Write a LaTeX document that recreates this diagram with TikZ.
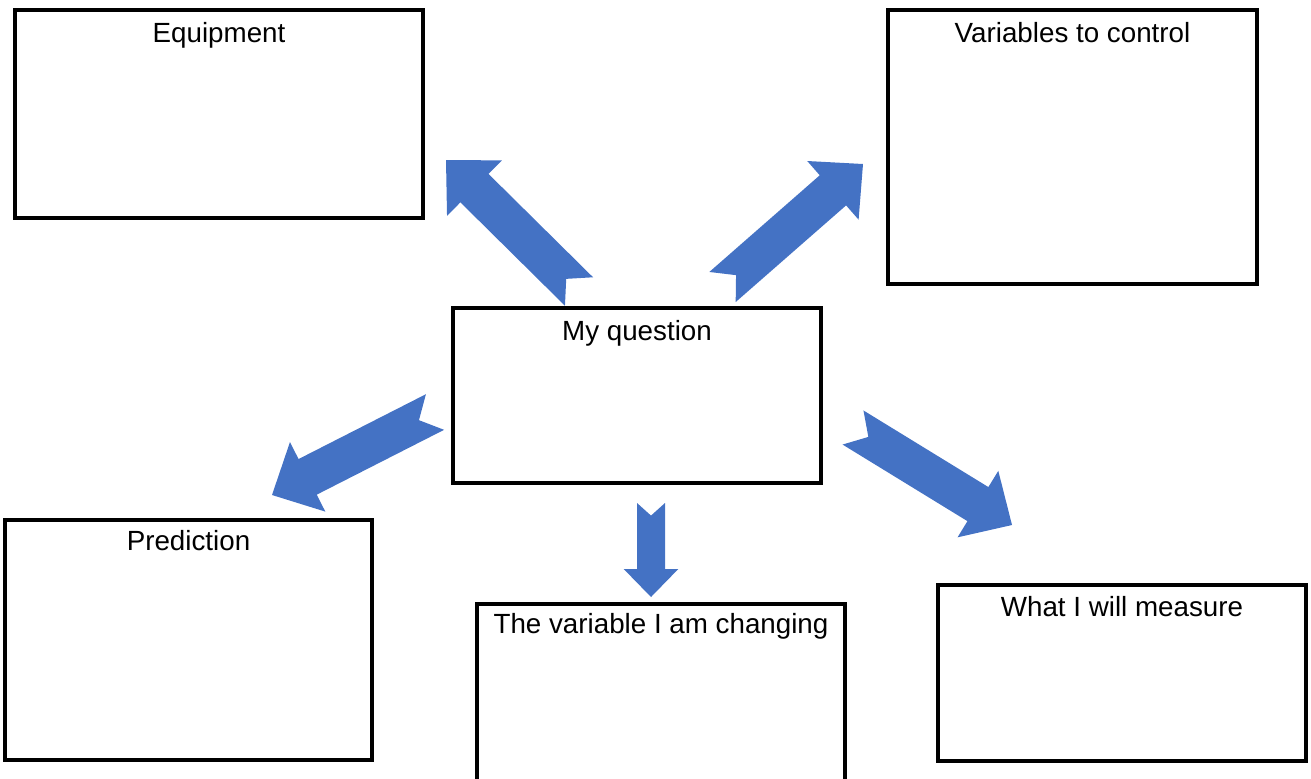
\documentclass[tikz,border=0pt]{standalone}
\usepackage{fontspec}
\setmainfont{Liberation Sans}
\usetikzlibrary{calc,positioning}
\definecolor{arrowblue}{RGB}{68,114,196}
% notched block arrow from #2 (tail) to #3 (tip), #1 scales its width
\newcommand{\blockarrow}[3][1]{%
	\coordinate (ahead) at ($(#3)!#1*0.8cm!(#2)$);
	\fill[arrowblue] ($(#2)!#1*0.4cm!90:(#3)$) -- ($(ahead)!#1*0.4cm!-90:(#2)$)
		-- ($(ahead)!#1*0.78cm!-90:(#2)$) -- (#3) -- ($(ahead)!#1*0.78cm!90:(#2)$)
		-- ($(ahead)!#1*0.4cm!90:(#2)$) -- ($(#2)!#1*0.4cm!-90:(#3)$)
		-- ($(#2)!#1*0.36cm!(#3)$) -- cycle;
}

\begin{document}
\begin{tikzpicture}[x=0.02cm,y=-0.02cm,
		box/.style={draw,line width=1.8pt,inner sep=0pt},
		title/.style={anchor=base,inner sep=0pt,font=\fontsize{15.8pt}{19pt}\selectfont}]
				\useasboundingbox (0,0) rectangle (1311,778);
				\clip (0,0) rectangle (1311,778);
				\node[box,minimum width=8.16cm,minimum height=4.16cm] (equip) at (219,114) {};
				\node[box,minimum width=7.38cm,minimum height=5.48cm] (control) at (1072.5,147) {};
				\node[box,minimum width=7.36cm,minimum height=3.5cm] (question) at (637,395.5) {};
				\node[box,minimum width=7.34cm,minimum height=4.8cm] (predict) at (188.5,640) {};
				\node[box,minimum width=7.36cm,minimum height=3.72cm] (change) at (661,697) {};
				\node[box,minimum width=7.36cm,minimum height=3.52cm] (measure) at (1122,673) {};
				\node[title] (equip-t) at ($(equip.north)+(0,34)$) {Equipment};
				\node[title] (control-t) at ($(control.north)+(0,34)$) {Variables to control};
				\node[title] (question-t) at ($(question.north)+(0,34)$) {My question};
				\node[title] (predict-t) at ($(predict.north)+(0,32)$) {Prediction};
				\node[title] (change-t) at ($(change.north)+(0,31)$) {The variable I am changing};
				\node[title] (measure-t) at ($(measure.north)+(0,33)$) {What I will measure};
				% tails and tips of the arrows
				\coordinate (eq-tail) at (579,291.5);
				\coordinate (eq-tip) at (446,160);
				\coordinate (co-tail) at (722.5,287);
				\coordinate (co-tip) at (863,164);
				\coordinate (pr-tail) at (435,412);
				\coordinate (pr-tip) at (272,495);
				\coordinate (me-tail) at (853,427.5);
				\coordinate (me-tip) at (1012,525);
				\coordinate (ch-tail) at (651,503);
				\coordinate (ch-tip) at (651,597);
				\blockarrow{eq-tail}{eq-tip}
				\blockarrow{co-tail}{co-tip}
				\blockarrow{pr-tail}{pr-tip}
				\blockarrow{me-tail}{me-tip}
				\blockarrow[0.7]{ch-tail}{ch-tip}
			\end{tikzpicture}
\end{document}
